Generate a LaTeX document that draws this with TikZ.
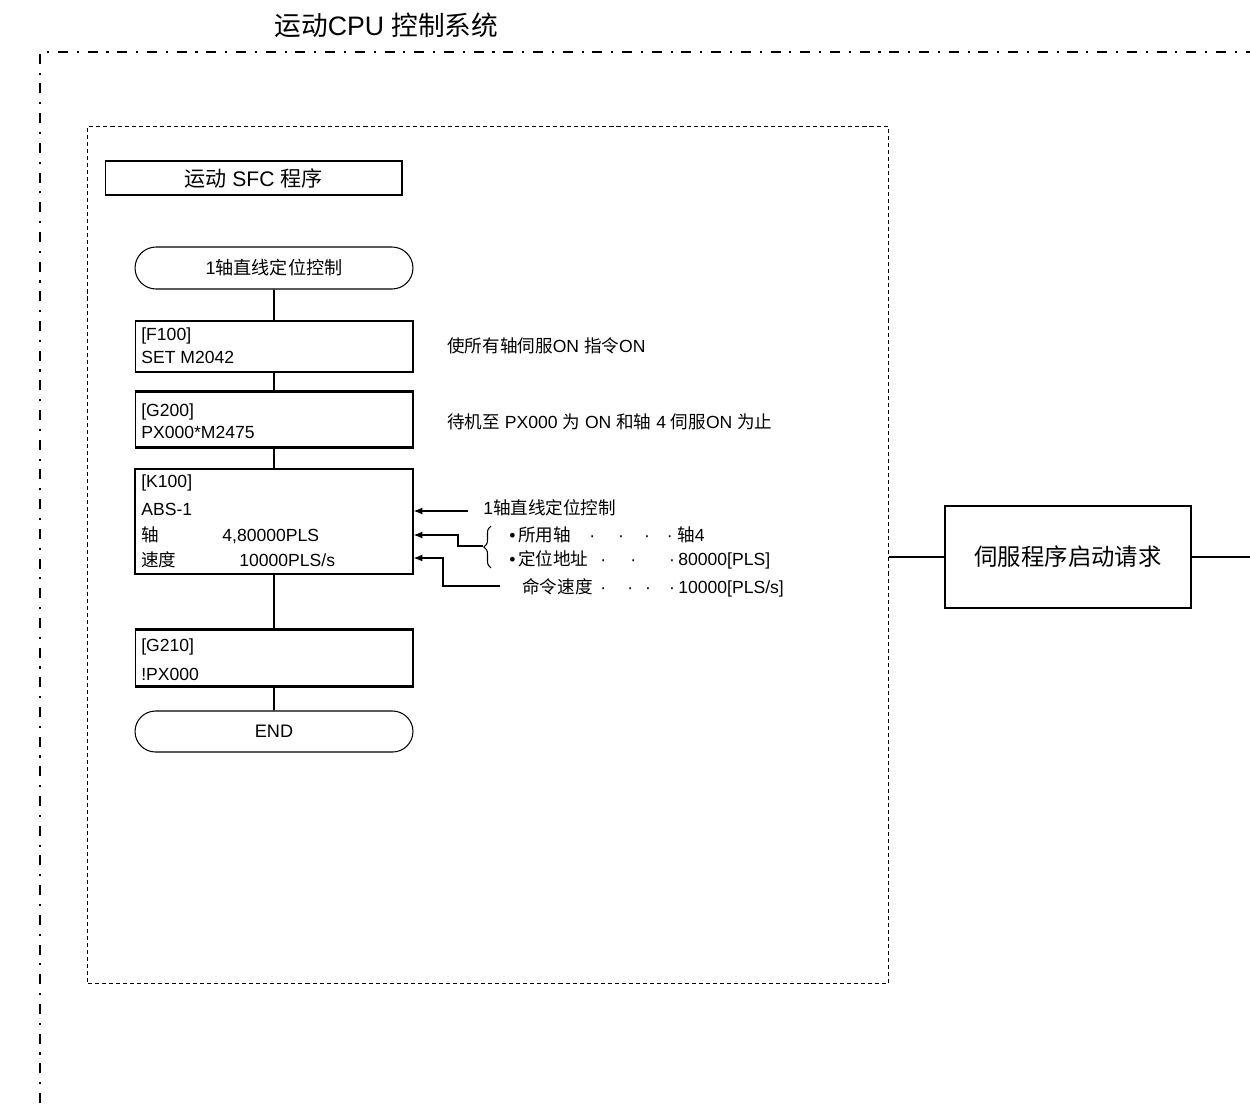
\documentclass[tikz,border=0pt]{standalone}
\usepackage{fontspec}
\setmainfont{Liberation Sans}
\newfontfamily\cjkf{Noto Sans CJK SC}
\usetikzlibrary{shapes.misc,arrows.meta,decorations.pathreplacing}
\newcommand\zhs[1]{{\cjkf #1}}
\newcommand\dt{\makebox[0pt]{·}}
\begin{document}
\begin{tikzpicture}[x=0.02cm,y=-0.02cm,
  txt/.style={anchor=base west,inner sep=0,font=\fontsize{10}{12}\selectfont},
  stepbox/.style={draw,line width=0.6pt,minimum width=5.56cm,inner sep=0},
  termbox/.style={draw,rounded rectangle,line width=0.6pt,minimum width=5.56cm,inner sep=0,font=\fontsize{10.3}{12}\selectfont},
  conn/.style={line width=0.9pt},
  thinl/.style={line width=0.6pt},
  arr/.style={line width=0.6pt,-{Latex[length=5pt,width=4pt]}},
  bar/.style={line width=2pt},
  outerframe/.style={line width=1.1pt,dash pattern=on 5.7pt off 5pt on 1.2pt off 5pt},
  innerframe/.style={line width=0.7pt,dash pattern=on 2.3pt off 1.7pt},
]
\useasboundingbox (0,0) rectangle (1250,1103);

% title
\node[txt,font=\fontsize{15.2}{18}\selectfont] (title) at (274,35) {\zhs{运动}CPU \zhs{控制系统}};

% outer frame
\coordinate (obl) at (40,1103);
\coordinate (otl) at (40,52);
\coordinate (otr) at (1250,52);
\draw[outerframe] (obl) -- (otl) -- (otr);

% inner frame
\node[draw,innerframe,minimum width=16.02cm,minimum height=17.14cm,anchor=north west,inner sep=0] (inner) at (87,126) {};

% SFC title
\node[draw,thinl,minimum width=5.94cm,minimum height=0.68cm,inner sep=0,font=\fontsize{12}{14}\selectfont] (sfct) at (253.5,178) {\zhs{运动} SFC \zhs{程序}};

% steps
\node[termbox,minimum height=0.84cm] (start) at (274,268) {1\zhs{轴直线定位控制}};
\node[stepbox,minimum height=1.02cm] (f100) at (274,346.5) {};
\node[stepbox,minimum height=1.1cm] (g200) at (274,419.5) {};
\node[stepbox,minimum height=2.1cm,line width=0.8pt] (k100) at (274,521.5) {};
\node[stepbox,minimum height=1.12cm] (g210) at (274,658) {};
\node[termbox,minimum height=0.82cm] (endt) at (274,731.5) {END};

\draw[bar] (g200.north west) -- (g200.north east);
\draw[bar] (g200.south west) -- (g200.south east);
\draw[bar] (g210.north west) -- (g210.north east);
\draw[bar] (g210.south west) -- (g210.south east);

\draw[conn] (start) -- (f100);
\draw[conn] (f100) -- (g200);
\draw[conn] (g200) -- (k100);
\draw[conn] (k100) -- (g210);
\draw[conn] (g210) -- (endt);

% box texts
\node[txt] (f100a) at (141,340) {[F100]};
\node[txt] (f100b) at (141,363) {SET M2042};
\node[txt] (g200a) at (141,416) {[G200]};
\node[txt] (g200b) at (141,438) {PX000*M2475};
\node[txt] (k1) at (141,487) {[K100]};
\node[txt] (k2) at (141,515) {ABS-1};
\node[txt] (k3a) at (141,541) {\zhs{轴}};
\node[txt] (k3b) at (222,541) {4,80000PLS};
\node[txt] (k4a) at (141,566) {\zhs{速度}};
\node[txt] (k4b) at (239,566) {10000PLS/s};
\node[txt] (g210a) at (141,651) {[G210]};
\node[txt] (g210b) at (141,680) {!PX000};

% comments
\node[txt] (c1) at (447,352) {\zhs{使所有轴伺服}ON \zhs{指令}ON};
\node[txt] (c2) at (447,428) {\zhs{待机至} PX000 \zhs{为} ON \zhs{和轴} 4 \zhs{伺服}ON \zhs{为止}};

% annotations
\node[txt] (an0) at (483,514) {1\zhs{轴直线定位控制}};
\coordinate (a1s) at (468,511);
\draw[arr] (a1s) -- (a1s -| k100.east);

\draw[thinl,decorate,decoration={brace,amplitude=4pt}] (491,568) -- (491,526);
\coordinate (br) at (483,546);
\coordinate (a2b) at (458,535);
\draw[arr] (br) -| (a2b) -- (a2b -| k100.east);

\coordinate (a3s) at (500,586);
\coordinate (a3b) at (443,558);
\draw[arr] (a3s) -| (a3b) -- (a3b -| k100.east);

\node[txt] (l1a) at (509,541) {•\hspace{1.5pt}\zhs{所用轴}};
\node[txt] (l1d) at (592,541) {\dt\hspace{16.4pt}\dt\hspace{14.7pt}\dt\hspace{13pt}\dt};
\node[txt] (l1v) at (677,541) {\zhs{轴}4};

\node[txt] (l2a) at (509,565) {•\hspace{1.5pt}\zhs{定位地址}};
\node[txt] (l2d) at (603,565) {\dt\hspace{17pt}\dt\hspace{22.1pt}\dt};
\node[txt] (l2v) at (678,565) {80000[PLS]};

\node[txt] (l3a) at (522,593) {\zhs{命令速度}};
\node[txt] (l3d) at (603,593) {\dt\hspace{15.3pt}\dt\hspace{10.2pt}\dt\hspace{13.6pt}\dt};
\node[txt] (l3v) at (678,593) {10000[PLS/s]};

% servo request box
\node[draw,line width=1.1pt,minimum width=4.92cm,minimum height=2.04cm,inner sep=0,font=\fontsize{13.3}{16}\selectfont] (srv) at (1068,557) {\zhs{伺服程序启动请求}};
\coordinate (rend) at (1250,557);
\draw[thinl] (inner.east |- srv.west) -- (srv.west);
\draw[thinl] (srv.east) -- (rend);
\end{tikzpicture}
\end{document}
